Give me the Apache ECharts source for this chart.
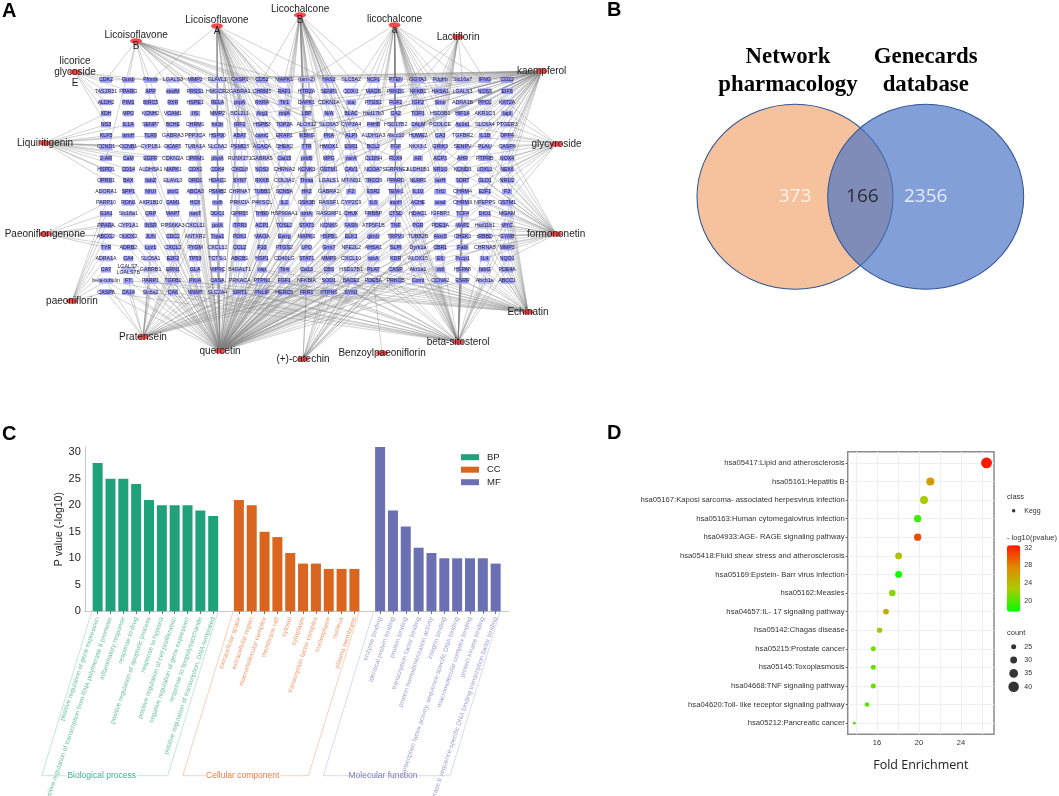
<!DOCTYPE html>
<html><head><meta charset="utf-8">
<style>html,body{margin:0;padding:0;background:#fff}#c{width:1059px;height:796px}</style>
<script src="https://cdn.jsdelivr.net/npm/echarts@6/dist/echarts.min.js"></script>
</head><body><div id="c"></div>
<script>
// ---------- A: network ----------
const geneRows = [
 ['CDK2','Gusb','Pfmnk','LGALS3','MMP1','ELAVL1','CASP1','CD52','MAPK1','(tam-2)','HAS2','SLC5A2','NCF1','PTEN','GGTA1','Pdgfrb','Slc16a7','IFNG','CD22'],
 ['TAS2R31','PPARG','APP','sssfM','PRSS1','HMGCR2','GABRA1','CHRM5','RAF1','HTR2A','SENP1','COX-1','MAOB','PRKD1','NFKB1','HASA1','LGALS3','NOS3','EIF6'],
 ['ALDH2','PIM1','BIRC5','RXR','HSPE1','RELA','ptpA','RXRA','Tlr1','DAPK1','CDKN1A','ica','PTGS1','FGF2','IGF2','Smo','ADRA1B','PPO2','KAT2A'],
 ['XDH','MPO','KCNH2','VCAM1','IIS','MMP2','BCL2L1','Arg1','nrdA','LBP','N/A','BLAC','Hsd17b3','CA2','TOP1','HSD3B1','HIF1A','AKR1C3','lapl'],
 ['NS3','IL1A','SENP7','BCHE','CHRM1','hd1b','IRF1','HSPB3','TOP2A','ALOX12','SLC6A3','CYP3A4','P4HB','HSD17B2','CALM','PCOLCE','Ap1s1','SLC6A4','PTGER3'],
 ['KLF5','tsmH','TLR9','GABRA3','PPP3CA','HSP90','ABAT','camC','ERAP1','IKBKG','PKA','ALPI','ALDH1A3','Abcc10','HUWE2','CA3','TGFBR2','IL1B','DPP4'],
 ['CCND1','CCNB1','CYP1B1','DCAF5','TUBA1A','SLC6A2','PSMD3','ACACA','CHEK2','TTR','HMOX1','ESR1','BCL2','PGF','NKX3-1','GRIK3','SENPV','PLAU','CASP6'],
 ['2-AR','CaM','EGFR','CDKN2A','DPRM1','pbpA','RUNX1T1','GABRA5','Cat15','ptbB','MPG','nsrA','CLDN4','FDX4','AR','ACP3','AHR','PTPRB','NOX4'],
 ['HSPD1','CD14','ALDH5A1','MAPK1','COX2','CDK4','CXCL8','NOS3','CHRNA2','KCNK3','GSTM1','CAV1','NCOA7','SERPINE1','ALDH1B1','NR1I3','KCND3','LOXL1','NEK6'],
 ['OPRD1','BAX','fabZ','ELAVL3','ORD1','HDAC1','SYNT','RXKB','COL3A1','Thrsa','LGALS1','MT-ND1','TRCO9','PPARD','NLRP1','tarH','SDRT','GLO1','NR1I2'],
 ['ADORA1','SPP1','NIUI','ptxC','ABCA3','PSMB2','CHRNA7','TUBB1','SCN5A','HK2','GABRA2','F2','ESR2','TEM-1','IL10','Trf2','CHRM4','E2F1','F3'],
 ['PARP10','RON1','AKR1B10','CAM1','HCK','mdh','PRKCIA','P4KSCL','IL2','GSK3B','RASSF1','CYP2C9','IL6','aspH','ACHE','aoaI','CHRM3','NPEPPS','GSTM1'],
 ['GJA1','Slc18a1','CRP','MAPT','nasT','DDC1','GPR55','THBD','HSP90AA1','sirtA','RASGRP1','CHUK','FRBBP','CTSD','HDAC1','IGFBP3','TCF4','DIO1','MGAM'],
 ['PPARA','CYP1A1','INSR','RPS6KA3','CXCL11','polA','ITPR3','ACP1','TOSL2','STAT3','KCNK9','FASN','ATP5F1B','TNF','PGR','PDE3A','MAP2','Hsd11b1','MYC'],
 ['ABCG2','DUOX2','JUN','CDC2','ANTXR2','Trpa1','PDK1','MAOA','Esrrg','MAPK1','HSPB1','ELK1','glmU','TRPV3','TUBB2B','Alox5','CHEK1','tRBBD','GYRB'],
 ['TYR','ADRB2','Lyz1','CXCL2','PYGM','CXCL12','CCL2','F10','PTGS2','LPO','Grm7','NFE2L2','AHSA1','SLPI','Dyrk1a','CBR1','FabI','CHRNA5','MMP3'],
 ['ADRA1A','CA4','SLC6A1','E2F2','TP53','TCTS-1','ABCB1','HSP1','CD40LG','STAT1','MMP9','CXCL10','stxA','KDR','ALOX15','E6','Pccp1','IL4','NQO1'],
 ['CA7','LGALS7-\nLGALS7B','GABRB1','ERN1','GLA','VIPFC','B4GALT1','nsp','Tlr4','Ca13','CBS','HSD17B1','PLAT','CASR','Akr1a1','ddl','HSPA8','fabG','PDE4A'],
 ['beta-tubulin','FT','PARP1','TGFB1','PKIA','CASA','PRKACA','PTPN1','FGF1','NFKBIA','SOD1','BACE1','PDE5A','PRKCB','Comt','CCNA2','ESRR','Abcb1a','ABCC1'],
 ['CASP8','CA14','Slc6a2','CA6','NNMT','SLC2A4','SIRT1','PNLIP','HERC5','FRR1','PTPN6','SYN1']
];
const hubNames = ['Licoisoflavone\nB','Licoisoflavone\nA','Licochalcone\nB','licochalcone\na','Lactiflorin','kaempferol','glycyroside','formononetin','Echinatin','beta-sitosterol','Benzoylpaeoniflorin','(+)-catechin','quercetin','Pratensein','paeoniflorin','Paeoniflorigenone','Liquiritigenin','licorice\nglycoside\nE'];
const hubCol = [1.35,4.98,8.71,12.95,15.8,19.55,20.22,20.2,18.94,15.8,12.39,8.84,5.12,1.66,-1.53,-2.74,-2.74,-1.39];
const hubRow = [-3.49,-4.84,-5.82,-4.93,-3.85,-0.81,5.73,13.8,20.79,23.48,24.46,25,24.28,23.03,19.8,13.8,5.65,-0.72];
const hubTargets = [
 [0,1,5,8,22,24,27,40,43,47,62,66,84,89,103,117,126,133,141,146,160],
 [2,5,6,7,8,10,24,25,27,44,46,63,65,82,84,100,103,121,122,140,143,157,159,176,178,196,198,215,218,233,235,255,256,272,274,293,311],
 [7,8,9,10,11,12,28,29,46,48,65,68,84,87,104,106,122,125,142,145,160,164,180,182,199,201,218,221,237,240,257,277,295,314,332],
 [9,12,13,14,15,16,17,30,32,33,34,50,52,53,68,71,72,89,90,107,110,126,129,146,148,164,167,184,186,203,205,222,241,260,279,298],
 [15,16,17,32,34,53,70,72,91,110,129,148],
 [0,2,5,8,10,12,13,14,15,16,17,18,30,33,35,36,37,47,50,53,55,56,64,69,73,74,75,85,90,92,93,94,103,108,110,112,113,120,126,130,131,132,140,147,149,150,151,162,168,170,180,186,189,200,207,215,226,240],
 [113,132,151,170,189,208,227,94,75,56,130,149,168,187,206,225,111,92],
 [132,151,170,189,208,227,246,265,284,303,322,131,150,169,188,207,226,245,264,283,302,321,129,148,186,205,243,262,281,300,319],
 [341,360,340,359,339,358,338,357,337,356,322,321,320,303,302,284,283,265,264,246,245,227,208,189,336,355,335,354,334,353,332,351,330,349,347,345,343],
 [342,344,346,348,350,352,353,355,357,359,361,363,365,367,369,371,372,330,333,335,337,339,341,315,318,320,322,298,300,302,279,282,284,261,263,265,241,244,246,222,225,203,206,184,187,165,168,146,127],
 [354],
 [351,352,353,333,335,315,316,297,299,279,262,243,226,206,370,371,372],
 [361,362,363,364,365,366,367,368,369,370,371,372,342,343,344,345,346,347,348,349,350,351,352,353,354,355,356,357,358,324,325,326,327,328,329,330,331,332,333,335,337,305,306,308,309,310,311,312,313,314,316,318,320,286,287,288,290,291,292,294,295,296,298,300,302,267,269,270,271,273,274,275,277,279,281,283,248,250,251,253,254,256,258,260,262,264,230,232,234,236,237,239,241,243,245,211,213,215,217,219,221,223,226,191,193,196,198,200,203,206,172,175,178,181,183,186,154,157,160,163,166,135,138,142,146,149,118,122,126,130,99,104,108,112,80,86,91,61,68,74,44,50,25,33,5,12],
 [342,343,344,345,346,347,348,349,350,351,352,353,361,362,363,364,365,366,367,368,369,370,371,325,306,287,270,251,232,213],
 [304,323,342,361,285,266,247,228,209],
 [209,228,247,266,267,285,286,248],
 [57,76,95,114,115,133,134,135,152,153,171,172,116,96,97,117,136,77],
 [0,19,38,57,76,1,2,20]
];
// ---------- B: venn ----------
const vennSets = ['Network\npharmacology','Genecards\ndatabase'];
const vennPos = [0,1];
const vennCounts = ['373','166','2356'];
const vennCountPos = [0,0.515,1];
// ---------- C: bars ----------
const bpNames = ['positive regulation of gene expression','positive regulation of transcription from RNA polymerase II promoter','inflammatory response','response to drug','positive regulation of apoptotic process','response to hypoxia','positive regulation of cell proliferation','negative regulation of gene expression','response to lipopolysaccharide','positive regulation of transcription, DNA-templated'];
const ccNames = ['extracellular space','extracellular region','macromolecular complex','membrane raft','cytosol','cytoplasm','transcription factor complex','nucleoplasm','nucleus','plasma membrane'];
const mfNames = ['enzyme binding','identical protein binding','protein binding','transcription factor binding','protein homodimerization activity','integrin binding','transcription factor activity, sequence-specific DNA binding','macromolecular complex binding','protein kinase binding','RNA polymerase II sequence-specific DNA binding transcription factor binding'];
const bpValues = [28,25,25,24,21,20,20,20,19,18];
const ccValues = [21,20,15,14,11,9,9,8,8,8];
const mfValues = [31,19,16,12,11,10,10,10,10,9];
// ---------- D: dot plot ----------
const keggNames = ['hsa05417:Lipid and atherosclerosis','hsa05161:Hepatitis B','hsa05167:Kaposi sarcoma- associated herpesvirus infection','hsa05163:Human cytomegalovirus infection','hsa04933:AGE- RAGE signaling pathway','hsa05418:Fluid shear stress and atherosclerosis','hsa05169:Epstein- Barr virus infection','hsa05162:Measles','hsa04657:IL- 17 signaling pathway','hsa05142:Chagas disease','hsa05215:Prostate cancer','hsa05145:Toxoplasmosis','hsa04668:TNF signaling pathway','hsa04620:Toll- like receptor signaling pathway','hsa05212:Pancreatic cancer'];
const keggFold = [26.43,21.08,20.48,19.87,19.87,18.06,18.06,17.46,16.86,16.25,15.65,15.65,15.65,15.05,13.85];
const keggLogP = [32.5,26.5,22.5,19.3,30.5,23.5,18,21.5,25,23.5,21,20.5,20.5,20,20];
const keggCount = [41,33,33,31,31,30,30,29,27,26,25,25,25,24,19];
const countLegend = [25,30,35,40];
const logPTicks = [20,24,28,32];
const foldTicks = [16,20,24];
const foldGrid = [14,16,18,20,22,24,26];

// ---------- build ----------
const SANS = '"Liberation Sans", Arial, sans-serif';
const nodes = [], links = [];
geneRows.forEach((row, r) => row.forEach((g, c) => {
  const n = g.replace('\n','').length;
  const w = n <= 3 ? 10 : n === 4 ? 12 : n === 5 ? 13 : 14;
  nodes.push({name: 'g' + nodes.length, value: [c, r], symbol: 'rect', symbolSize: [w, 5.6],
    itemStyle: {color: n >= 6 ? '#b6b6f6' : '#9c9cf6'},
    label: {show: true, position: 'inside', formatter: g, fontSize: 5.3, lineHeight: 6, fontFamily: SANS, color: '#1c1c3a'}});
}));
const geneCount = nodes.length;
hubNames.forEach((h, i) => {
  nodes.push({name: 'h' + i, value: [hubCol[i], hubRow[i]], symbol: 'circle', symbolSize: [12, 5.5],
    itemStyle: {color: '#f94a4a'},
    label: {show: true, position: 'inside', formatter: h, fontSize: 10, lineHeight: 11, fontFamily: SANS, color: '#222'}});
  hubTargets[i].forEach(t => links.push({source: geneCount + i, target: t}));
});

const blank = '';
const barCats = [blank, ...bpNames, blank, ...ccNames, blank, ...mfNames, blank];
const pad = (before, vals, after) => [...Array(before).fill(null), ...vals, ...Array(after).fill(null)];
const catColors = {};
bpNames.forEach(n => catColors[n] = '#6cc0a6');
ccNames.forEach(n => catColors[n] = '#ef9a6c');
mfNames.forEach(n => catColors[n] = '#9c9ed2');
const dotSize = c => 5 + (c - 25) * 0.37;

const bracket = (pts, color) => ({type: 'polyline', silent: true, z: 5, shape: {points: pts}, style: {stroke: color, fill: null, lineWidth: 0.8}});
const gText = (x, y, t, font, fill, align, extra) => ({type: 'text', x, y, z: 6, silent: true, style: Object.assign({text: t, font, fill, align: align || 'left', verticalAlign: 'middle'}, extra || {})});
const G = o => Object.assign({outerBoundsMode: 'none', containLabel: false}, o);

const option = {
  animation: false,
  backgroundColor: '#fff',
  grid: [
    G({left: 16.9, top: 1.88, width: 579.3, height: 368.3}),
    G({left: 795, top: 146.7, width: 130.7, height: 100}),
    G({left: 84.8, top: 447, width: 423.7, height: 164.3}),
    G({left: 847.7, top: 451.7, width: 146.3, height: 282.6, show: true, borderColor: '#8c8c8c', borderWidth: 1.5, backgroundColor: '#fff'}),
    G({left: 1007, top: 545.3, width: 13.3, height: 66.4}),
    G({left: 1007, top: 640, width: 13.3, height: 53.4}),
    G({left: 1007, top: 504, width: 13.3, height: 13.4})
  ],
  xAxis: [
    {gridIndex: 0, type: 'value', min: -4, max: 22, show: false},
    {gridIndex: 1, type: 'value', min: 0, max: 1, show: false},
    {gridIndex: 2, type: 'category', data: barCats, boundaryGap: false,
      axisLine: {lineStyle: {color: '#c8c8c8', width: 1}},
      axisTick: {length: 2.5, interval: (i, v) => v !== blank, lineStyle: {color: '#333', width: 0.8}},
      axisLabel: {interval: 0, rotate: 71, margin: 6, fontSize: 6.5, fontFamily: SANS, color: v => catColors[v] || '#999', hideOverlap: false}},
    {gridIndex: 3, type: 'value', min: 13.21, max: 27.14,
      name: 'Fold Enrichment', nameLocation: 'middle', nameGap: 25,
      nameTextStyle: {fontFamily: '"Open Sans", sans-serif', fontSize: 12.5, color: '#222'},
      axisLine: {show: false},
      axisTick: {show: true, length: 0.01, customValues: foldGrid},
      axisLabel: {customValues: foldTicks, fontSize: 7.5, margin: 5, color: '#333', fontFamily: SANS},
      splitLine: {show: true, lineStyle: {color: '#efefef', width: 1}}},
    {gridIndex: 4, type: 'value', min: 0, max: 1, show: false},
    {gridIndex: 5, type: 'value', min: -1, max: 1, show: false},
    {gridIndex: 6, type: 'value', min: -1, max: 1, show: false}
  ],
  yAxis: [
    {gridIndex: 0, type: 'value', min: -7, max: 26, inverse: true, show: false},
    {gridIndex: 1, type: 'value', min: -1, max: 1, show: false},
    {gridIndex: 2, type: 'value', min: 0, max: 31, interval: 5,
      name: 'P value (-log10)', nameLocation: 'middle', nameGap: 20, nameRotate: 90,
      nameTextStyle: {fontSize: 10.5, fontFamily: SANS, color: '#222'},
      axisLine: {show: true, lineStyle: {color: '#c8c8c8', width: 1}}, axisTick: {show: false}, splitLine: {show: false},
      axisLabel: {fontSize: 11, margin: 4, color: '#222', fontFamily: SANS, showMaxLabel: false}},
    {gridIndex: 3, type: 'value', min: -0.6, max: 14.6, inverse: true,
      axisLine: {show: false},
      axisTick: {show: true, length: 2, customValues: keggNames.map((_, i) => i), lineStyle: {color: '#333', width: 0.8}},
      axisLabel: {customValues: keggNames.map((_, i) => i), formatter: v => keggNames[v], fontSize: 7.66, margin: 3, color: '#333', fontFamily: SANS},
      splitLine: {show: true, lineStyle: {color: '#efefef', width: 1}}},
    {gridIndex: 4, type: 'value', min: 17.5, max: 32.6, position: 'right', z: 10,
      axisLine: {show: false},
      axisTick: {show: true, inside: true, length: 2.5, customValues: logPTicks, lineStyle: {color: '#fff', width: 0.8}},
      axisLabel: {customValues: logPTicks, fontSize: 7, margin: 4, color: '#333', fontFamily: SANS},
      splitLine: {show: false}},
    {gridIndex: 5, type: 'category', data: countLegend.map(String), inverse: true, position: 'right',
      axisLine: {show: false}, axisTick: {show: false}, axisLabel: {fontSize: 7, margin: 4, color: '#333', fontFamily: SANS}},
    {gridIndex: 6, type: 'category', data: ['Kegg'], position: 'right',
      axisLine: {show: false}, axisTick: {show: false}, axisLabel: {fontSize: 7, margin: 4, color: '#333', fontFamily: SANS}}
  ],
  legend: {data: ['BP', 'CC', 'MF'], orient: 'vertical', left: 461, top: 452.2, padding: 0, itemWidth: 18, itemHeight: 6, itemGap: 2.5,
    selectedMode: false, icon: 'rect', textStyle: {fontSize: 9.5, color: '#222', fontFamily: SANS, padding: [0, 0, 0, 3]}},
  visualMap: {type: 'continuous', seriesIndex: 6, dimension: 2, min: 17.5, max: 32.6, left: 1007, top: 545.3, padding: 0,
    itemWidth: 13.3, itemHeight: 66.4, calculable: false, hoverLink: false,
    inRange: {color: ['#00ff00', '#a8cc00', '#e08a00', '#ff1800']}},
  series: [
    {type: 'graph', coordinateSystem: 'cartesian2d', xAxisIndex: 0, yAxisIndex: 0, layout: 'none', silent: true, roam: false,
      data: nodes, links, lineStyle: {color: 'rgba(125,125,125,0.5)', width: 0.7, curveness: 0, opacity: 1}, emphasis: {disabled: true}},
    {type: 'scatter', xAxisIndex: 1, yAxisIndex: 1, silent: true, clip: false, symbolSize: [196, 185],
      data: [{value: [vennPos[0], 0], itemStyle: {color: '#f6c19d'}}, {value: [vennPos[1], 0], itemStyle: {color: 'rgba(68,114,196,0.67)'}}],
      itemStyle: {borderColor: '#2f5597', borderWidth: 1, opacity: 1}},
    {type: 'scatter', xAxisIndex: 1, yAxisIndex: 1, silent: true, clip: false, symbolSize: 1, itemStyle: {color: 'transparent'},
      data: vennCounts.map((t, i) => ({value: [vennCountPos[i], 0], name: t, label: {color: i === 1 ? '#111' : '#fff'}})),
      label: {show: true, position: 'inside', formatter: '{b}', fontSize: 19, fontFamily: '"Open Sans", sans-serif'}},
    {type: 'bar', name: 'BP', stack: 'go', xAxisIndex: 2, yAxisIndex: 2, barWidth: 10, itemStyle: {color: '#1fa27a'}, data: pad(1, bpValues, 23)},
    {type: 'bar', name: 'CC', stack: 'go', xAxisIndex: 2, yAxisIndex: 2, barWidth: 10, itemStyle: {color: '#d9651f'}, data: pad(12, ccValues, 12)},
    {type: 'bar', name: 'MF', stack: 'go', xAxisIndex: 2, yAxisIndex: 2, barWidth: 10, itemStyle: {color: '#6b70b3'}, data: pad(23, mfValues, 1)},
    {type: 'scatter', xAxisIndex: 3, yAxisIndex: 3, silent: true, clip: false,
      data: keggNames.map((_, i) => [keggFold[i], i, keggLogP[i], keggCount[i]]),
      symbolSize: d => dotSize(d[3]), encode: {x: 0, y: 1}, itemStyle: {opacity: 1}},
    {type: 'scatter', xAxisIndex: 5, yAxisIndex: 5, silent: true, itemStyle: {color: '#000'},
      data: countLegend.map(c => [0, String(c), c]), symbolSize: d => dotSize(d[2])},
    {type: 'scatter', xAxisIndex: 6, yAxisIndex: 6, silent: true, itemStyle: {color: '#000'}, symbolSize: 3.5,
      data: [[0, 'Kegg']]}
  ],
  graphic: [
    gText(2, 11, 'A', 'bold 20px ' + SANS, '#000'),
    gText(607, 10, 'B', 'bold 20px ' + SANS, '#000'),
    gText(2, 434, 'C', 'bold 20px ' + SANS, '#000'),
    gText(607, 433, 'D', 'bold 20px ' + SANS, '#000'),
    gText(788, 71, vennSets[0], 'bold 22.8px "Liberation Serif", serif', '#000', 'center', {lineHeight: 28.5}),
    gText(925.7, 71, vennSets[1], 'bold 22.8px "Liberation Serif", serif', '#000', 'center', {lineHeight: 28.5}),
    bracket([[91.7, 612], [41.7, 775.7], [167.7, 775.7], [218, 612]], '#b4e0d2'),
    bracket([[233, 612], [182.7, 775.7], [308.3, 775.7], [359, 612]], '#f8c2a8'),
    bracket([[373.3, 612], [323.3, 775.7], [450, 775.7], [500, 612]], '#cfd0ea'),
    gText(101.7, 776, 'Biological process', '8.5px ' + SANS, '#3fb08f', 'center', {backgroundColor: '#fff', padding: [0, 1]}),
    gText(242.7, 776, 'Cellular component', '8.5px ' + SANS, '#ea7a42', 'center', {backgroundColor: '#fff', padding: [0, 1]}),
    gText(383, 776, 'Molecular function', '8.5px ' + SANS, '#7a7cc0', 'center'),
    gText(1007, 497, 'class', '7.5px ' + SANS, '#333'),
    gText(1007, 538, '- log10(pvalue)', '7.5px ' + SANS, '#333'),
    gText(1007, 632.7, 'count', '7.5px ' + SANS, '#333')
  ]
};
const chart = echarts.init(document.getElementById('c'), null, {renderer: 'canvas'});
chart.setOption(option);
</script></body></html>
